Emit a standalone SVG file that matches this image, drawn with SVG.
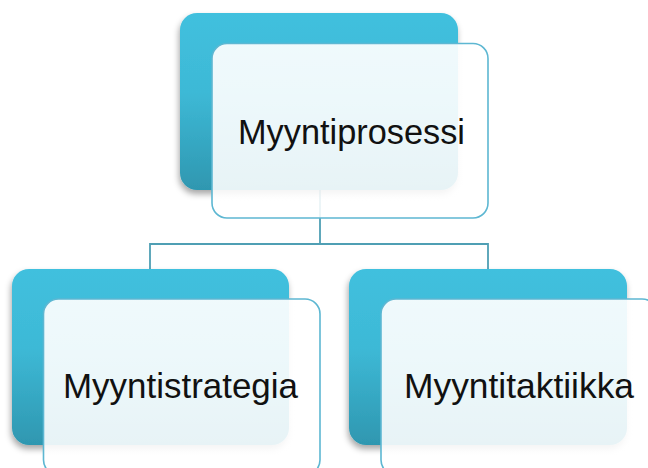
<svg xmlns="http://www.w3.org/2000/svg" width="648" height="468" viewBox="0 0 648 468">
  <defs>
    <linearGradient id="backFill" x1="0" y1="0" x2="0" y2="1">
      <stop offset="0" stop-color="#41C0DE"/>
      <stop offset="0.45" stop-color="#3DB9D6"/>
      <stop offset="1" stop-color="#2F97B0"/>
    </linearGradient>
    <linearGradient id="frontFill" x1="0" y1="0" x2="0" y2="1">
      <stop offset="0" stop-color="#FFFFFF" stop-opacity="0.92"/>
      <stop offset="1" stop-color="#FFFFFF" stop-opacity="0.88"/>
    </linearGradient>
    <filter id="shadow" x="-10%" y="-10%" width="120%" height="125%">
      <feDropShadow dx="-1" dy="4" stdDeviation="3" flood-color="#000000" flood-opacity="0.35"/>
    </filter>
    <filter id="softShadow" x="-10%" y="-10%" width="120%" height="125%">
      <feDropShadow dx="0" dy="1" stdDeviation="1.5" flood-color="#3A8FA6" flood-opacity="0.15"/>
    </filter>
  </defs>
  <style>
    .back { fill: url(#backFill); filter: url(#shadow); }
    .front { fill: url(#frontFill); stroke: #5DB7D2; stroke-width: 1.6; }
    .label { font-family: "Liberation Sans", Arial, sans-serif; font-size: 35px; fill: #111111; text-anchor: middle; }
    .conn { fill: none; stroke: #4F9FB4; stroke-width: 1.8; }
  </style>

  <g id="connectors">
    <path class="conn" d="M320 190 V244"/>
    <path class="conn" d="M150 269 V244 H488 V269"/>
  </g>

  <g id="node-myyntiprosessi">
    <rect class="back" x="180" y="13" width="278" height="177" rx="17"/>
    <rect class="front" x="212" y="43.5" width="276" height="174.5" rx="15"/>
    <text class="label" x="351.5" y="144" textLength="227" lengthAdjust="spacingAndGlyphs">Myyntiprosessi</text>
  </g>

  <g id="node-myyntistrategia">
    <rect class="back" x="12" y="269" width="277" height="176" rx="17"/>
    <rect class="front" x="43.5" y="299" width="276.5" height="176" rx="15"/>
    <text class="label" x="180.5" y="398" textLength="235" lengthAdjust="spacingAndGlyphs">Myyntistrategia</text>
  </g>

  <g id="node-myyntitaktiikka">
    <rect class="back" x="349" y="269" width="278" height="176" rx="17"/>
    <rect class="front" x="381" y="299" width="276" height="176" rx="15"/>
    <text class="label" x="519" y="398" textLength="230" lengthAdjust="spacingAndGlyphs">Myyntitaktiikka</text>
  </g>
</svg>
